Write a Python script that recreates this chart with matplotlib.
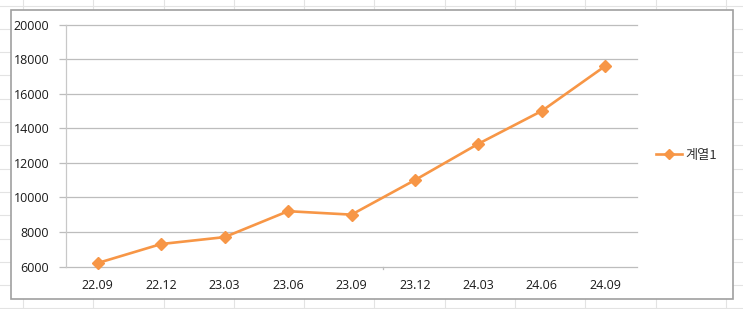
import matplotlib
matplotlib.use("Agg")
import matplotlib.pyplot as plt
from matplotlib.lines import Line2D
from matplotlib.patches import Rectangle

categories = ["22.09", "22.12", "23.03", "23.06", "23.09", "23.12", "24.03", "24.06", "24.09"]
values = [6200, 7300, 7700, 9200, 9000, 11000, 13100, 15000, 17600]
series_name = "계열1"
yticks = [6000, 8000, 10000, 12000, 14000, 16000, 18000, 20000]

W, H = 743, 309
fig = plt.figure(figsize=(W / 100, H / 100), dpi=100)
fig.patch.set_facecolor("white")

# spreadsheet cell gridlines in the background
for k in range(11):
    x = 23 + 70.3 * k
    fig.add_artist(Line2D([x / W, x / W], [0, 1], color="#e3e3e3", lw=0.8, zorder=0))
for k in range(14):
    y = 5.5 + 23.3 * k
    fig.add_artist(Line2D([0, 1], [1 - y / H, 1 - y / H], color="#e3e3e3", lw=0.8, zorder=0))

# chart frame
x0, y0, x1, y1 = 11, 9.5, 733, 299
fig.add_artist(Rectangle((x0 / W, 1 - y1 / H), (x1 - x0) / W, (y1 - y0) / H,
                         facecolor="white", edgecolor="#a0a0a0", lw=1.2, zorder=1))

L, R, T, B = 66, 637, 24.5, 266.5
ax = fig.add_axes([L / W, 1 - B / H, (R - L) / W, (B - T) / H], zorder=2)
ax.set_facecolor("none")

color = "#F79646"
xs = list(range(len(categories)))
line, = ax.plot(xs, values, color=color, lw=1.9, marker="D", markersize=6.5,
                markeredgecolor=color, label=series_name, zorder=3, clip_on=False)

ax.set_xlim(-0.5, len(categories) - 0.5)
ax.set_ylim(6000, 20000)
ax.set_yticks(yticks)
ax.set_yticklabels([str(v) for v in yticks])
ax.set_xticks(xs)
ax.set_xticklabels(categories)
ax.yaxis.grid(False)
for v in yticks:
    ax.axhline(v, color="#bdbdbd", lw=0.9, zorder=1, clip_on=False)

for s in ["top", "right", "bottom"]:
    ax.spines[s].set_visible(False)
ax.spines["left"].set_color("#c8c8c8")
ax.spines["left"].set_linewidth(0.9)

ax.tick_params(axis="y", length=5, width=0.9, color="#bdbdbd", pad=7,
               labelsize=9, labelcolor="#1a1a1a")
ax.tick_params(axis="x", length=0, pad=9, labelsize=9, labelcolor="#1a1a1a")
for lab in ax.get_xticklabels() + ax.get_yticklabels():
    lab.set_fontfamily(["Open Sans", "DejaVu Sans"])

# small tick below axis
ax.plot([4.5, 4.5], [6000, 5850], color="#bdbdbd", lw=0.9, clip_on=False)

leg = fig.legend(handles=[line], labels=[series_name], loc="center left",
                 bbox_to_anchor=(656 / W, 1 - 155 / H), frameon=False,
                 handlelength=2.0, handletextpad=0.25, borderaxespad=0, borderpad=0,
                 prop={"family": ["Noto Sans CJK KR", "DejaVu Sans"], "size": 9.5})
for t in leg.get_texts():
    t.set_color("#333333")
for h in leg.legend_handles:
    h.set_markersize(5)

fig.savefig("out.png", dpi=100, facecolor="white")
